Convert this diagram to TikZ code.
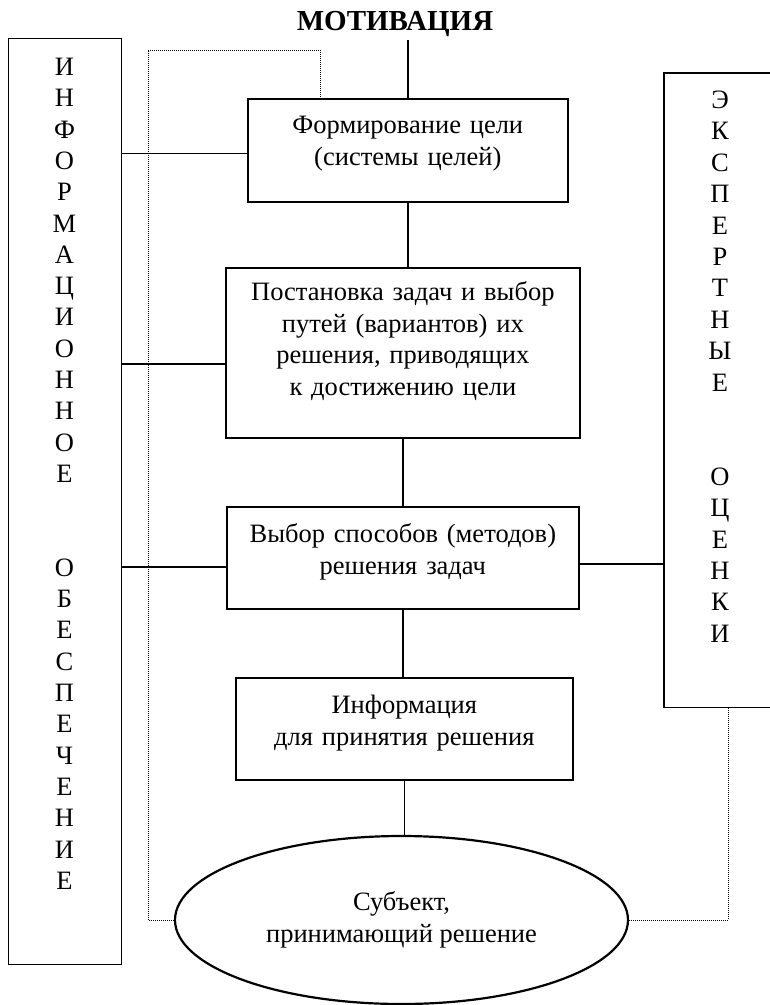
\documentclass[tikz,border=0pt]{standalone}
\usepackage{fontspec}
\setmainfont{Liberation Serif}
\usetikzlibrary{shapes.geometric,positioning,calc}
\tikzset{
  stage/.style={draw, line width=1.7pt, align=center, inner xsep=0pt, inner ysep=0pt, anchor=north west},
  side/.style={line width=1.4pt},
  link/.style={line width=1.3pt},
  feedback/.style={line width=0.7pt, dash pattern=on 1pt off 1pt},
}

\begin{document}
\begin{tikzpicture}[x=1pt,y=-1pt,every node/.style={font=\fontsize{26.5}{31.5}\selectfont}]
\useasboundingbox (0,0) rectangle (770,1005);

\node[font=\bfseries\fontsize{29}{33}\selectfont, anchor=base] (title) at (395,30) {МОТИВАЦИЯ};

% stages
\node[stage, text width=320pt, text height=35pt, text depth=68pt] (goal) at (247,98) {Формирование цели\\(системы целей)};
\node[stage, text width=354pt, text height=33pt, text depth=137pt] (tasks) at (225,267) {Постановка задач и выбор\\путей (вариантов) их\\решения, приводящих\\к достижению цели};
\node[stage, text width=352pt, text height=36pt, text depth=66pt] (methods) at (226,506) {Выбор способов (методов)\\решения задач};
\node[stage, text width=337pt, text height=36pt, text depth=66pt] (data) at (235,677) {Информация\\для принятия решения};
\node[ellipse, draw, line width=2.2pt, minimum width=453pt, minimum height=168pt, inner sep=0pt, align=center] (subject) at (401.5,920) {Субъект,\\принимающий решение};

% side boxes
\node[draw, side, anchor=north west, minimum width=113pt, minimum height=926pt, inner sep=0pt] (infobox) at (8,38) {};
\foreach \l [count=\i] in {И,Н,Ф,О,Р,М,А,Ц,И,О,Н,Н,О,Е,{},{},О,Б,Е,С,П,Е,Ч,Е,Н,И,Е}
    \node[anchor=base, inner sep=0pt] (inf-\i) at (64.5,{75.5+31.3*(\i-1)}) {\l};

\node[anchor=north west, minimum width=106pt, minimum height=634pt, inner sep=0pt] (expert) at (664,73) {};
\draw[side] (expert.north east) -- (expert.north west) -- (expert.south west) -- (expert.south east);
\foreach \l [count=\i] in {Э,К,С,П,Е,Р,Т,Н,Ы,Е,{},{},О,Ц,Е,Н,К,И}
    \node[anchor=base, inner sep=0pt] (exp-\i) at (720,{108.5+31.4*(\i-1)}) {\l};

% links
\draw[link] (goal.north) -- (goal.north |- title.south);
\draw[link] (goal.south) -- (goal.south |- tasks.north);
\draw[link] (tasks.south) -- (tasks.south |- methods.north);
\draw[link] (methods.south) -- (methods.south |- data.north);
\draw[link] (data.south) -- (data.south |- subject.north);

\coordinate (goal-in) at ([yshift=-3pt]goal.west);
\coordinate (tasks-in) at ([yshift=-11pt]tasks.west);
\coordinate (methods-in) at ([yshift=-9pt]methods.west);
\coordinate (methods-out) at ([yshift=-6pt]methods.east);
\draw[link] (infobox.east |- goal-in) -- (goal-in);
\draw[link] (infobox.east |- tasks-in) -- (tasks-in);
\draw[link] (infobox.east |- methods-in) -- (methods-in);
\draw[link] (methods-out) -- (methods-out -| expert.west);

% feedback
\coordinate (loop) at (148,50);
\draw[feedback] (subject.west) -| (loop) -| ([xshift=-88pt]goal.north);
\draw[feedback] (subject.east) -| ([xshift=11pt]expert.south);

\end{tikzpicture}
\end{document}
